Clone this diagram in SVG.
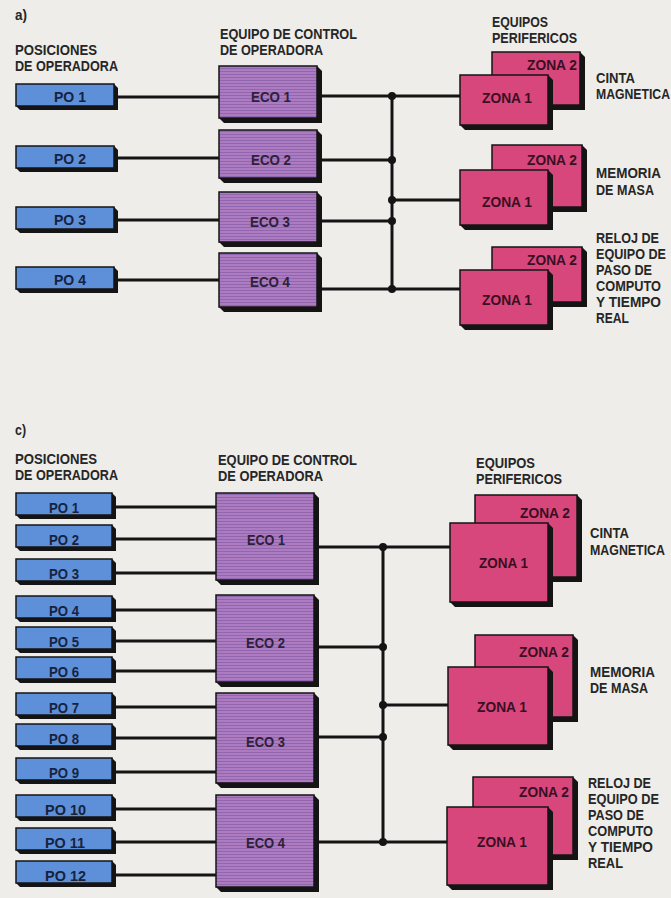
<svg xmlns="http://www.w3.org/2000/svg" width="671" height="898" viewBox="0 0 671 898">
<style>
text{font-family:"Liberation Sans",Arial,sans-serif;font-size:15px;font-weight:bold;fill:#262626}
.sh{fill:#141414}
.po{fill:#5e8fd9;stroke:#141414;stroke-width:1.5}
.eco{fill:url(#hatch);stroke:#141414;stroke-width:1.5}
.zn{fill:#d8477c;stroke:#141414;stroke-width:1.5}
.ln{stroke:#141414;stroke-width:3;fill:none}
.dot{fill:#141414}
.lbl{fill:#16233f}
.el{fill:#2e2038}
.zl{fill:#3a0f22}
</style>
<defs>
<pattern id="hatch" patternUnits="userSpaceOnUse" width="4" height="3">
<rect width="4" height="3" fill="#9066b0"/>
<line x1="0" y1="1" x2="4" y2="1" stroke="#c890d0" stroke-width="1"/>
</pattern>
</defs>
<rect width="671" height="898" fill="#eeede9"/>

<!-- Section a headings -->
<g id="heads-a">
<text x="15" y="20" textLength="12" lengthAdjust="spacingAndGlyphs">a)</text>
<text x="15" y="55" textLength="82" lengthAdjust="spacingAndGlyphs">POSICIONES</text>
<text x="15" y="71" textLength="103" lengthAdjust="spacingAndGlyphs">DE OPERADORA</text>
<text x="220" y="39" textLength="137" lengthAdjust="spacingAndGlyphs">EQUIPO DE CONTROL</text>
<text x="220" y="55" textLength="103" lengthAdjust="spacingAndGlyphs">DE OPERADORA</text>
<text x="492" y="27" textLength="56" lengthAdjust="spacingAndGlyphs">EQUIPOS</text>
<text x="492" y="43" textLength="85" lengthAdjust="spacingAndGlyphs">PERIFERICOS</text>
</g>
<g id="labels-a" transform="translate(596,0) scale(0.8,1)">
<text x="0" y="83" textLength="48.75" lengthAdjust="spacingAndGlyphs">CINTA</text>
<text x="0" y="99" textLength="92.5" lengthAdjust="spacingAndGlyphs">MAGNETICA</text>
<text x="0" y="178" textLength="81.25" lengthAdjust="spacingAndGlyphs">MEMORIA</text>
<text x="0" y="195" textLength="72.5" lengthAdjust="spacingAndGlyphs">DE MASA</text>
<text x="0" y="243" textLength="78.75" lengthAdjust="spacingAndGlyphs">RELOJ DE</text>
<text x="0" y="259" textLength="87.5" lengthAdjust="spacingAndGlyphs">EQUIPO DE</text>
<text x="0" y="275" textLength="70" lengthAdjust="spacingAndGlyphs">PASO DE</text>
<text x="0" y="291" textLength="81.25" lengthAdjust="spacingAndGlyphs">COMPUTO</text>
<text x="0" y="307" textLength="81.25" lengthAdjust="spacingAndGlyphs">Y TIEMPO</text>
<text x="0" y="323" textLength="41.25" lengthAdjust="spacingAndGlyphs">REAL</text>
</g>

<!-- Connectors -->
<g id="connectors">
<path class="ln" d="M118 97H219M118 158H219M118 220H219M118 280H219"/>
<path class="ln" d="M322 96H392M322 160H392M322 221H392M322 289H392"/>
<path class="ln" d="M392 96V289"/>
<path class="ln" d="M392 96H460M392 200H460M392 289H460"/>
<circle class="dot" cx="392" cy="96" r="4"/>
<circle class="dot" cx="392" cy="160" r="4"/>
<circle class="dot" cx="392" cy="200" r="4"/>
<circle class="dot" cx="392" cy="221" r="4"/>
<circle class="dot" cx="392" cy="289" r="4"/>

<path class="ln" d="M116 507H216M116 539H216M116 573H216M116 610H216M116 641H216M116 671H216M116 707H216M116 738H216M116 772H216M116 809H216M116 842H216M116 875H216"/>
<path class="ln" d="M319 547H383M319 647H383M319 737H383M319 842H383"/>
<path class="ln" d="M383 547V842"/>
<path class="ln" d="M383 547H450M383 705H448M383 842H447"/>
<circle class="dot" cx="383" cy="547" r="4"/>
<circle class="dot" cx="383" cy="647" r="4"/>
<circle class="dot" cx="383" cy="705" r="4"/>
<circle class="dot" cx="383" cy="737" r="4"/>
<circle class="dot" cx="383" cy="842" r="4"/>
</g>

<!-- Section a PO -->
<g id="a-po1"><polygon class="sh" points="16,84 114,84 118,88 118,110 20,110 16,106"/><rect class="po" x="16" y="84" width="98" height="22"/><text class="lbl" x="54" y="102" textLength="32" lengthAdjust="spacingAndGlyphs">PO 1</text></g>
<g id="a-po2"><polygon class="sh" points="16,146 114,146 118,150 118,172 20,172 16,168"/><rect class="po" x="16" y="146" width="98" height="22"/><text class="lbl" x="54" y="164" textLength="32" lengthAdjust="spacingAndGlyphs">PO 2</text></g>
<g id="a-po3"><polygon class="sh" points="16,207 114,207 118,211 118,233 20,233 16,229"/><rect class="po" x="16" y="207" width="98" height="22"/><text class="lbl" x="54" y="225" textLength="32" lengthAdjust="spacingAndGlyphs">PO 3</text></g>
<g id="a-po4"><polygon class="sh" points="16,267 114,267 118,271 118,293 20,293 16,289"/><rect class="po" x="16" y="267" width="98" height="22"/><text class="lbl" x="54" y="285" textLength="32" lengthAdjust="spacingAndGlyphs">PO 4</text></g>

<!-- Section a ECO -->
<g id="a-eco1"><polygon class="sh" points="219,66 317,66 322,71 322,123 224,123 219,118"/><rect class="eco" x="219" y="66" width="98" height="52"/><text class="el" x="251" y="102" textLength="40" lengthAdjust="spacingAndGlyphs">ECO 1</text></g>
<g id="a-eco2"><polygon class="sh" points="219,130 317,130 322,135 322,183 224,183 219,178"/><rect class="eco" x="219" y="130" width="98" height="48"/><text class="el" x="251" y="165" textLength="40" lengthAdjust="spacingAndGlyphs">ECO 2</text></g>
<g id="a-eco3"><polygon class="sh" points="219,192 317,192 322,197 322,247 224,247 219,242"/><rect class="eco" x="219" y="192" width="98" height="50"/><text class="el" x="250" y="227" textLength="40" lengthAdjust="spacingAndGlyphs">ECO 3</text></g>
<g id="a-eco4"><polygon class="sh" points="219,253 317,253 322,258 322,312 224,312 219,307"/><rect class="eco" x="219" y="253" width="98" height="54"/><text class="el" x="250" y="287" textLength="40" lengthAdjust="spacingAndGlyphs">ECO 4</text></g>

<!-- Section a peripherals -->
<g id="a-cinta-z2"><polygon class="sh" points="492,52 580,52 585,57 585,110 497,110 492,105"/><rect class="zn" x="492" y="52" width="88" height="53"/><text class="zl" x="527" y="70" textLength="50" lengthAdjust="spacingAndGlyphs">ZONA 2</text></g>
<g id="a-cinta-z1"><polygon class="sh" points="460,75 548,75 553,80 553,130 465,130 460,125"/><rect class="zn" x="460" y="75" width="88" height="50"/><text class="zl" x="482" y="103" textLength="50" lengthAdjust="spacingAndGlyphs">ZONA 1</text></g>
<g id="a-mem-z2"><polygon class="sh" points="492,145 582,145 587,150 587,212 497,212 492,207"/><rect class="zn" x="492" y="145" width="90" height="62"/><text class="zl" x="527" y="165" textLength="50" lengthAdjust="spacingAndGlyphs">ZONA 2</text></g>
<g id="a-mem-z1"><polygon class="sh" points="460,170 548,170 553,175 553,230 465,230 460,225"/><rect class="zn" x="460" y="170" width="88" height="55"/><text class="zl" x="482" y="207" textLength="50" lengthAdjust="spacingAndGlyphs">ZONA 1</text></g>
<g id="a-rel-z2"><polygon class="sh" points="492,247 582,247 587,252 587,307 497,307 492,302"/><rect class="zn" x="492" y="247" width="90" height="55"/><text class="zl" x="527" y="265" textLength="50" lengthAdjust="spacingAndGlyphs">ZONA 2</text></g>
<g id="a-rel-z1"><polygon class="sh" points="460,270 548,270 553,275 553,330 465,330 460,325"/><rect class="zn" x="460" y="270" width="88" height="55"/><text class="zl" x="482" y="305" textLength="50" lengthAdjust="spacingAndGlyphs">ZONA 1</text></g>

<!-- Section c headings -->
<g id="heads-c">
<text x="15" y="435" textLength="11" lengthAdjust="spacingAndGlyphs">c)</text>
<text x="15" y="464" textLength="82" lengthAdjust="spacingAndGlyphs">POSICIONES</text>
<text x="15" y="480" textLength="103" lengthAdjust="spacingAndGlyphs">DE OPERADORA</text>
<text x="218" y="465" textLength="139" lengthAdjust="spacingAndGlyphs">EQUIPO DE CONTROL</text>
<text x="218" y="481" textLength="105" lengthAdjust="spacingAndGlyphs">DE OPERADORA</text>
<text x="476" y="468" textLength="59" lengthAdjust="spacingAndGlyphs">EQUIPOS</text>
<text x="476" y="484" textLength="86" lengthAdjust="spacingAndGlyphs">PERIFERICOS</text>
</g>
<g id="labels-c1" transform="translate(590,0) scale(0.8,1)">
<text x="0" y="538" textLength="48.75" lengthAdjust="spacingAndGlyphs">CINTA</text>
<text x="0" y="555" textLength="93.75" lengthAdjust="spacingAndGlyphs">MAGNETICA</text>
<text x="0" y="677" textLength="81.25" lengthAdjust="spacingAndGlyphs">MEMORIA</text>
<text x="0" y="693" textLength="72.5" lengthAdjust="spacingAndGlyphs">DE MASA</text>
</g>
<g id="labels-c2" transform="translate(588,0) scale(0.8,1)">
<text x="0" y="788" textLength="78.75" lengthAdjust="spacingAndGlyphs">RELOJ DE</text>
<text x="0" y="804" textLength="88.75" lengthAdjust="spacingAndGlyphs">EQUIPO DE</text>
<text x="0" y="820" textLength="70" lengthAdjust="spacingAndGlyphs">PASO DE</text>
<text x="0" y="836" textLength="81.25" lengthAdjust="spacingAndGlyphs">COMPUTO</text>
<text x="0" y="852" textLength="81.25" lengthAdjust="spacingAndGlyphs">Y TIEMPO</text>
<text x="0" y="868" textLength="43.75" lengthAdjust="spacingAndGlyphs">REAL</text>
</g>

<!-- Section c PO -->
<g id="c-po1"><polygon class="sh" points="16,493 112,493 116,497 116,519 20,519 16,515"/><rect class="po" x="16" y="493" width="96" height="22"/><text class="lbl" x="49" y="513" textLength="30" lengthAdjust="spacingAndGlyphs">PO 1</text></g>
<g id="c-po2"><polygon class="sh" points="16,525 112,525 116,529 116,551 20,551 16,547"/><rect class="po" x="16" y="525" width="96" height="22"/><text class="lbl" x="49" y="545" textLength="30" lengthAdjust="spacingAndGlyphs">PO 2</text></g>
<g id="c-po3"><polygon class="sh" points="16,559 112,559 116,563 116,585 20,585 16,581"/><rect class="po" x="16" y="559" width="96" height="22"/><text class="lbl" x="49" y="579" textLength="30" lengthAdjust="spacingAndGlyphs">PO 3</text></g>
<g id="c-po4"><polygon class="sh" points="16,596 112,596 116,600 116,622 20,622 16,618"/><rect class="po" x="16" y="596" width="96" height="22"/><text class="lbl" x="49" y="616" textLength="30" lengthAdjust="spacingAndGlyphs">PO 4</text></g>
<g id="c-po5"><polygon class="sh" points="16,627 112,627 116,631 116,653 20,653 16,649"/><rect class="po" x="16" y="627" width="96" height="22"/><text class="lbl" x="49" y="647" textLength="30" lengthAdjust="spacingAndGlyphs">PO 5</text></g>
<g id="c-po6"><polygon class="sh" points="16,657 112,657 116,661 116,683 20,683 16,679"/><rect class="po" x="16" y="657" width="96" height="22"/><text class="lbl" x="49" y="677" textLength="30" lengthAdjust="spacingAndGlyphs">PO 6</text></g>
<g id="c-po7"><polygon class="sh" points="16,693 112,693 116,697 116,719 20,719 16,715"/><rect class="po" x="16" y="693" width="96" height="22"/><text class="lbl" x="49" y="713" textLength="30" lengthAdjust="spacingAndGlyphs">PO 7</text></g>
<g id="c-po8"><polygon class="sh" points="16,724 112,724 116,728 116,750 20,750 16,746"/><rect class="po" x="16" y="724" width="96" height="22"/><text class="lbl" x="49" y="744" textLength="30" lengthAdjust="spacingAndGlyphs">PO 8</text></g>
<g id="c-po9"><polygon class="sh" points="16,758 112,758 116,762 116,784 20,784 16,780"/><rect class="po" x="16" y="758" width="96" height="22"/><text class="lbl" x="49" y="778" textLength="30" lengthAdjust="spacingAndGlyphs">PO 9</text></g>
<g id="c-po10"><polygon class="sh" points="16,795 112,795 116,799 116,821 20,821 16,817"/><rect class="po" x="16" y="795" width="96" height="22"/><text class="lbl" x="45" y="815" textLength="41" lengthAdjust="spacingAndGlyphs">PO 10</text></g>
<g id="c-po11"><polygon class="sh" points="16,828 112,828 116,832 116,854 20,854 16,850"/><rect class="po" x="16" y="828" width="96" height="22"/><text class="lbl" x="45" y="848" textLength="40" lengthAdjust="spacingAndGlyphs">PO 11</text></g>
<g id="c-po12"><polygon class="sh" points="16,861 112,861 116,865 116,887 20,887 16,883"/><rect class="po" x="16" y="861" width="96" height="22"/><text class="lbl" x="45" y="881" textLength="41" lengthAdjust="spacingAndGlyphs">PO 12</text></g>

<!-- Section c ECO -->
<g id="c-eco1"><polygon class="sh" points="216,493 314,493 319,498 319,585 221,585 216,580"/><rect class="eco" x="216" y="493" width="98" height="87"/><text class="el" x="247" y="545" textLength="38" lengthAdjust="spacingAndGlyphs">ECO 1</text></g>
<g id="c-eco2"><polygon class="sh" points="216,595 314,595 319,600 319,687 221,687 216,682"/><rect class="eco" x="216" y="595" width="98" height="87"/><text class="el" x="246" y="648" textLength="39" lengthAdjust="spacingAndGlyphs">ECO 2</text></g>
<g id="c-eco3"><polygon class="sh" points="216,693 314,693 319,698 319,788 221,788 216,783"/><rect class="eco" x="216" y="693" width="98" height="90"/><text class="el" x="246" y="747" textLength="39" lengthAdjust="spacingAndGlyphs">ECO 3</text></g>
<g id="c-eco4"><polygon class="sh" points="216,795 314,795 319,800 319,892 221,892 216,887"/><rect class="eco" x="216" y="795" width="98" height="92"/><text class="el" x="246" y="848" textLength="39" lengthAdjust="spacingAndGlyphs">ECO 4</text></g>

<!-- Section c peripherals -->
<g id="c-cinta-z2"><polygon class="sh" points="475,495 577,495 582,500 582,582 480,582 475,577"/><rect class="zn" x="475" y="495" width="102" height="82"/><text class="zl" x="520" y="518" textLength="50" lengthAdjust="spacingAndGlyphs">ZONA 2</text></g>
<g id="c-cinta-z1"><polygon class="sh" points="450,523 548,523 553,528 553,607 455,607 450,602"/><rect class="zn" x="450" y="523" width="98" height="79"/><text class="zl" x="479" y="568" textLength="49" lengthAdjust="spacingAndGlyphs">ZONA 1</text></g>
<g id="c-mem-z2"><polygon class="sh" points="475,635 573,635 578,640 578,722 480,722 475,717"/><rect class="zn" x="475" y="635" width="98" height="82"/><text class="zl" x="519" y="657" textLength="50" lengthAdjust="spacingAndGlyphs">ZONA 2</text></g>
<g id="c-mem-z1"><polygon class="sh" points="448,667 548,667 553,672 553,750 453,750 448,745"/><rect class="zn" x="448" y="667" width="100" height="78"/><text class="zl" x="477" y="712" textLength="50" lengthAdjust="spacingAndGlyphs">ZONA 1</text></g>
<g id="c-rel-z2"><polygon class="sh" points="473,777 573,777 578,782 578,860 478,860 473,855"/><rect class="zn" x="473" y="777" width="100" height="78"/><text class="zl" x="519" y="797" textLength="50" lengthAdjust="spacingAndGlyphs">ZONA 2</text></g>
<g id="c-rel-z1"><polygon class="sh" points="447,807 548,807 553,812 553,890 452,890 447,885"/><rect class="zn" x="447" y="807" width="101" height="78"/><text class="zl" x="477" y="847" textLength="50" lengthAdjust="spacingAndGlyphs">ZONA 1</text></g>
</svg>
